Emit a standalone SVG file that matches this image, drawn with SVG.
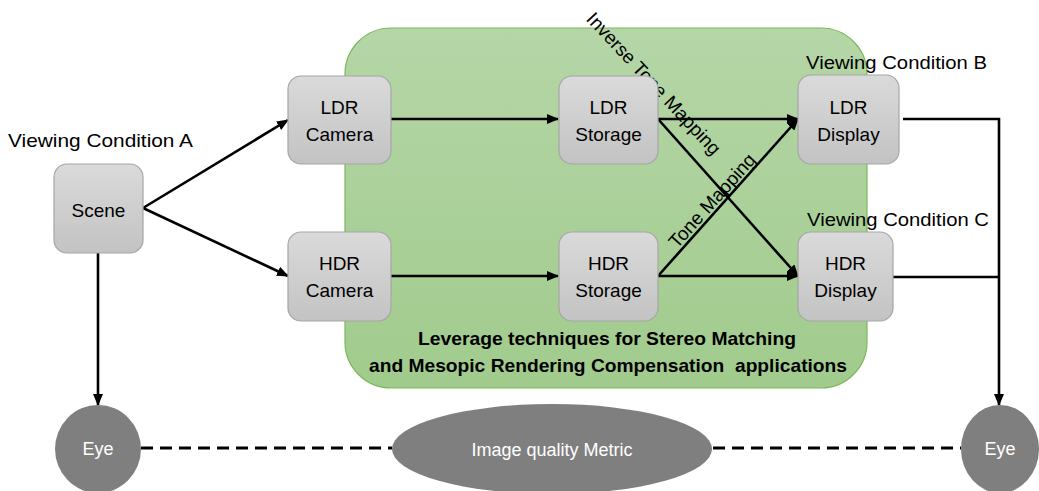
<svg xmlns="http://www.w3.org/2000/svg" width="1039" height="491" viewBox="0 0 1039 491">
<style>
.lbl{font-family:"Liberation Sans",Arial,sans-serif;font-size:19px;fill:#000}
.node rect{fill:url(#gbox);stroke:#a6a6a6;stroke-width:1.2}
.ntxt{font-family:"Liberation Sans",Arial,sans-serif;font-size:19px;fill:#000;text-anchor:middle}
.wtxt{font-family:"Liberation Sans",Arial,sans-serif;font-size:18px;fill:#fff;text-anchor:middle}
.ell{fill:#7f7f7f}
.conn{fill:none;stroke:#000;stroke-width:2.6}
.arr{marker-end:url(#ah)}
.dash{fill:none;stroke:#000;stroke-width:3;stroke-dasharray:12 7}
.bold{font-family:"Liberation Sans",Arial,sans-serif;font-size:19px;font-weight:bold;fill:#000;text-anchor:middle}
</style>
<defs>
<linearGradient id="gbox" x1="0" y1="0" x2="0" y2="1">
<stop offset="0" stop-color="#dadada"/>
<stop offset="1" stop-color="#c3c3c3"/>
</linearGradient>
<linearGradient id="ggreen" x1="0" y1="0" x2="0" y2="1">
<stop offset="0" stop-color="#b5d6a7"/>
<stop offset="1" stop-color="#a1cb8d"/>
</linearGradient>
<marker id="ah" markerUnits="userSpaceOnUse" markerWidth="12" markerHeight="10" refX="11" refY="5" orient="auto">
<path d="M0,0 L12,5 L0,10 Z" fill="#000"/>
</marker>
</defs>

<g id="container">
<rect x="345" y="28" width="522" height="360" rx="46" ry="46" fill="url(#ggreen)" stroke="#7cb75c" stroke-width="1.2"/>
<text class="bold" x="607" y="345" textLength="378" lengthAdjust="spacingAndGlyphs">Leverage techniques for Stereo Matching</text>
<text class="bold" x="608" y="372" textLength="478" lengthAdjust="spacingAndGlyphs" xml:space="preserve">and Mesopic Rendering Compensation  applications</text>
</g>

<g id="labels">
<text class="lbl" x="8" y="147" textLength="185" lengthAdjust="spacingAndGlyphs">Viewing Condition A</text>
<text class="lbl" x="806" y="69" textLength="181" lengthAdjust="spacingAndGlyphs">Viewing Condition B</text>
<text class="lbl" x="807" y="226" textLength="182" lengthAdjust="spacingAndGlyphs">Viewing Condition C</text>
</g>

<g id="connectors">
<line class="conn arr" x1="143" y1="208" x2="288" y2="120"/>
<line class="conn arr" x1="143" y1="208" x2="288" y2="276"/>
<line class="conn arr" x1="98" y1="253" x2="98" y2="405"/>
<line class="conn arr" x1="391" y1="119" x2="558" y2="119"/>
<line class="conn arr" x1="391" y1="276" x2="558" y2="276"/>
<line class="conn arr" x1="658" y1="119" x2="798" y2="119"/>
<line class="conn arr" x1="658" y1="119" x2="798" y2="276"/>
<line class="conn arr" x1="658" y1="276" x2="798" y2="119"/>
<line class="conn arr" x1="658" y1="276" x2="798" y2="276"/>
<path class="conn arr" d="M903,119 H999 V405"/>
<line class="conn" x1="893" y1="277" x2="999" y2="277"/>
<line class="dash" x1="141" y1="448" x2="392" y2="448"/>
<line class="dash" x1="713" y1="448" x2="961" y2="448"/>
<text class="lbl" transform="translate(649,88) rotate(47)" text-anchor="middle" font-size="20">Inverse Tone Mapping</text>
<text class="lbl" transform="translate(717,205) rotate(-48)" text-anchor="middle">Tone Mapping</text>
</g>

<g id="scene" class="node">
<rect x="54" y="164" width="89" height="89" rx="13"/>
<text class="ntxt" x="98.5" y="217">Scene</text>
</g>
<g id="ldr-camera" class="node">
<rect x="288" y="76" width="103" height="88" rx="13"/>
<text class="ntxt" x="339.5" y="114">LDR</text>
<text class="ntxt" x="339.5" y="141">Camera</text>
</g>
<g id="hdr-camera" class="node">
<rect x="288" y="232" width="103" height="89" rx="13"/>
<text class="ntxt" x="339.5" y="270">HDR</text>
<text class="ntxt" x="339.5" y="297">Camera</text>
</g>
<g id="ldr-storage" class="node">
<rect x="559" y="76" width="99" height="88" rx="13"/>
<text class="ntxt" x="608.5" y="114">LDR</text>
<text class="ntxt" x="608.5" y="141">Storage</text>
</g>
<g id="hdr-storage" class="node">
<rect x="559" y="232" width="99" height="89" rx="13"/>
<text class="ntxt" x="608.5" y="270">HDR</text>
<text class="ntxt" x="608.5" y="297">Storage</text>
</g>
<g id="ldr-display" class="node">
<rect x="798" y="75" width="101" height="89" rx="13"/>
<text class="ntxt" x="848.5" y="114">LDR</text>
<text class="ntxt" x="848.5" y="141">Display</text>
</g>
<g id="hdr-display" class="node">
<rect x="798" y="232" width="95" height="89" rx="13"/>
<text class="ntxt" x="845.5" y="270">HDR</text>
<text class="ntxt" x="845.5" y="297">Display</text>
</g>

<g id="eye-left">
<ellipse class="ell" cx="98" cy="449" rx="43" ry="44"/>
<text class="wtxt" x="98" y="455">Eye</text>
</g>
<g id="metric">
<ellipse class="ell" cx="552" cy="449" rx="160" ry="45"/>
<text class="wtxt" x="552" y="456" font-size="19">Image quality Metric</text>
</g>
<g id="eye-right">
<ellipse class="ell" cx="1000" cy="449" rx="39" ry="44"/>
<text class="wtxt" x="1000" y="455">Eye</text>
</g>
</svg>
